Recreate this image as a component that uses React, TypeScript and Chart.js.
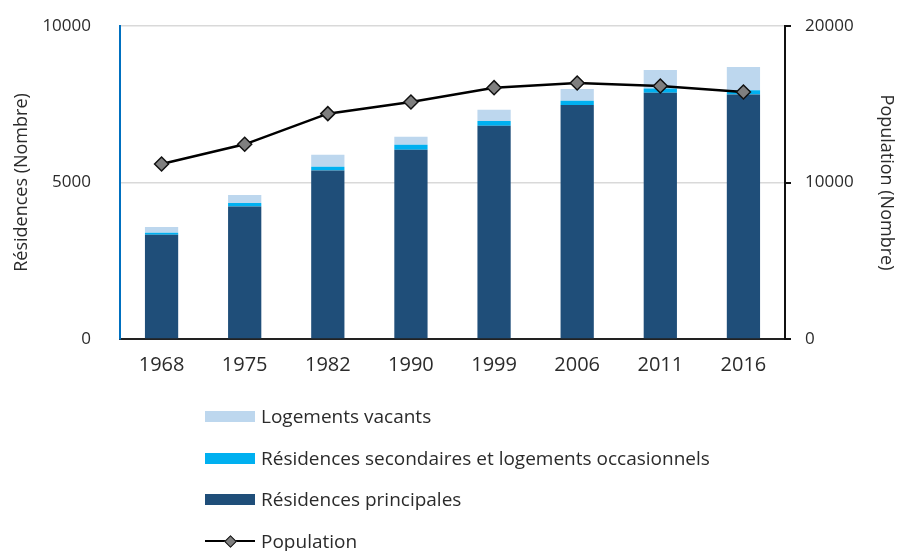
import React, { useEffect, useRef } from 'react';
import { Chart, registerables } from 'chart.js';

Chart.register(...registerables);

const years = ['1968', '1975', '1982', '1990', '1999', '2006', '2011', '2016'];
const principales = [3330, 4230, 5380, 6050, 6815, 7475, 7870, 7815];
const secondaires = [65, 115, 125, 160, 150, 140, 130, 130];
const vacants = [180, 255, 385, 255, 360, 375, 595, 745];
const population = [11180, 12440, 14400, 15140, 16060, 16360, 16170, 15780];

const leftTicks = [0, 5000, 10000];
const rightTicks = [0, 10000, 20000];

const FONT = '"Open Sans", Lato, sans-serif';
const C_PRINC = '#1f4e79';
const C_SEC = '#00b0f0';
const C_VAC = '#bdd7ee';
const TEXT = '#2b2b2b';

const legendItems = [
  { label: 'Logements vacants', color: C_VAC, type: 'box' },
  { label: 'Résidences secondaires et logements occasionnels', color: C_SEC, type: 'box' },
  { label: 'Résidences principales', color: C_PRINC, type: 'box' },
  { label: 'Population', color: '#000', type: 'line' },
];

export default function App() {
  const ref = useRef<HTMLCanvasElement | null>(null);

  useEffect(() => {
    if (!ref.current) return;
    const chart = new Chart(ref.current, {
      type: 'bar',
      data: {
        labels: years,
        datasets: [
          {
            type: 'line',
            label: 'Population',
            data: population,
            yAxisID: 'y1',
            borderColor: '#000',
            borderWidth: 2.5,
            pointStyle: 'rectRot',
            pointRadius: 7,
            pointBackgroundColor: '#7f7f7f',
            pointBorderColor: '#111',
            pointBorderWidth: 1.5,
            tension: 0,
            order: 0,
          } as any,
          {
            label: 'Résidences principales',
            data: principales,
            backgroundColor: C_PRINC,
            yAxisID: 'y',
            order: 1,
            barPercentage: 0.4,
            categoryPercentage: 1,
          },
          {
            label: 'Résidences secondaires et logements occasionnels',
            data: secondaires,
            backgroundColor: C_SEC,
            yAxisID: 'y',
            order: 1,
            barPercentage: 0.4,
            categoryPercentage: 1,
          },
          {
            label: 'Logements vacants',
            data: vacants,
            backgroundColor: C_VAC,
            yAxisID: 'y',
            order: 1,
            barPercentage: 0.4,
            categoryPercentage: 1,
          },
        ],
      },
      options: {
        responsive: false,
        animation: false,
        layout: { padding: { top: 26, left: 0, right: 0, bottom: 0 } },
        plugins: {
          legend: { display: false },
          tooltip: { enabled: false },
        },
        scales: {
          x: {
            stacked: true,
            grid: { drawOnChartArea: false, drawTicks: false },
            border: { display: true, color: '#222', width: 2 },
            ticks: { color: TEXT, font: { family: FONT, size: 20 }, padding: 14 },
            afterFit: (s: any) => { s.height = 212; },
          },
          y: {
            stacked: true,
            position: 'left',
            min: 0,
            max: 10000,
            afterBuildTicks: (s: any) => { s.ticks = leftTicks.map((v) => ({ value: v })); },
            grid: { color: '#d9d9d9', lineWidth: 1.5, drawTicks: false },
            border: { display: true, color: '#0070c0', width: 2 },
            ticks: { color: TEXT, font: { family: FONT, size: 17 }, padding: 29, callback: (v: any) => String(v) },
            title: {
              display: true,
              text: 'Résidences (Nombre)',
              color: TEXT,
              font: { family: FONT, size: 18 },
              padding: { top: 11, bottom: 0 },
            },
            afterFit: (s: any) => { s.width = 120; s.paddingTop = 0; s.paddingBottom = 0; },
          },
          y1: {
            position: 'right',
            min: 0,
            max: 20000,
            afterBuildTicks: (s: any) => { s.ticks = rightTicks.map((v) => ({ value: v })); },
            grid: { drawOnChartArea: false, drawTicks: true, tickLength: 6, color: '#111', lineWidth: 2 },
            border: { display: true, color: '#111', width: 2 },
            ticks: { color: TEXT, font: { family: FONT, size: 17 }, padding: 14, callback: (v: any) => String(v) },
            title: {
              display: true,
              text: 'Population (Nombre)',
              color: TEXT,
              font: { family: FONT, size: 18 },
              padding: { top: 4, bottom: 0 },
            },
            afterFit: (s: any) => { s.width = 116; s.paddingTop = 0; s.paddingBottom = 0; },
          },
        },
      } as any,
    });
    return () => chart.destroy();
  }, []);

  const legendCenters = [416, 458, 499, 541];

  return (
    <div style={{ position: 'absolute', left: 0, top: 0, width: 901, height: 551, background: '#fff', overflow: 'hidden' }}>
      <canvas ref={ref} width={901} height={551} style={{ display: 'block' }} />
      {legendItems.map((it, i) => (
        <div
          key={it.label}
          style={{
            position: 'absolute',
            left: 205,
            top: legendCenters[i] - 13,
            height: 26,
            display: 'flex',
            alignItems: 'center',
            fontFamily: FONT,
            fontSize: 19,
            color: TEXT,
            whiteSpace: 'nowrap',
          }}
        >
          {it.type === 'box' ? (
            <span style={{ display: 'inline-block', width: 50, height: 11, background: it.color, marginRight: 6 }} />
          ) : (
            <span style={{ position: 'relative', display: 'inline-block', width: 50, height: 11, marginRight: 6 }}>
              <span style={{ position: 'absolute', left: 0, top: 4.5, width: 50, height: 2, background: '#000' }} />
              <span
                style={{
                  position: 'absolute',
                  left: 21,
                  top: 1,
                  width: 7,
                  height: 7,
                  background: '#7f7f7f',
                  border: '1.5px solid #111',
                  transform: 'rotate(45deg)',
                }}
              />
            </span>
          )}
          <span>{it.label}</span>
        </div>
      ))}
    </div>
  );
}
